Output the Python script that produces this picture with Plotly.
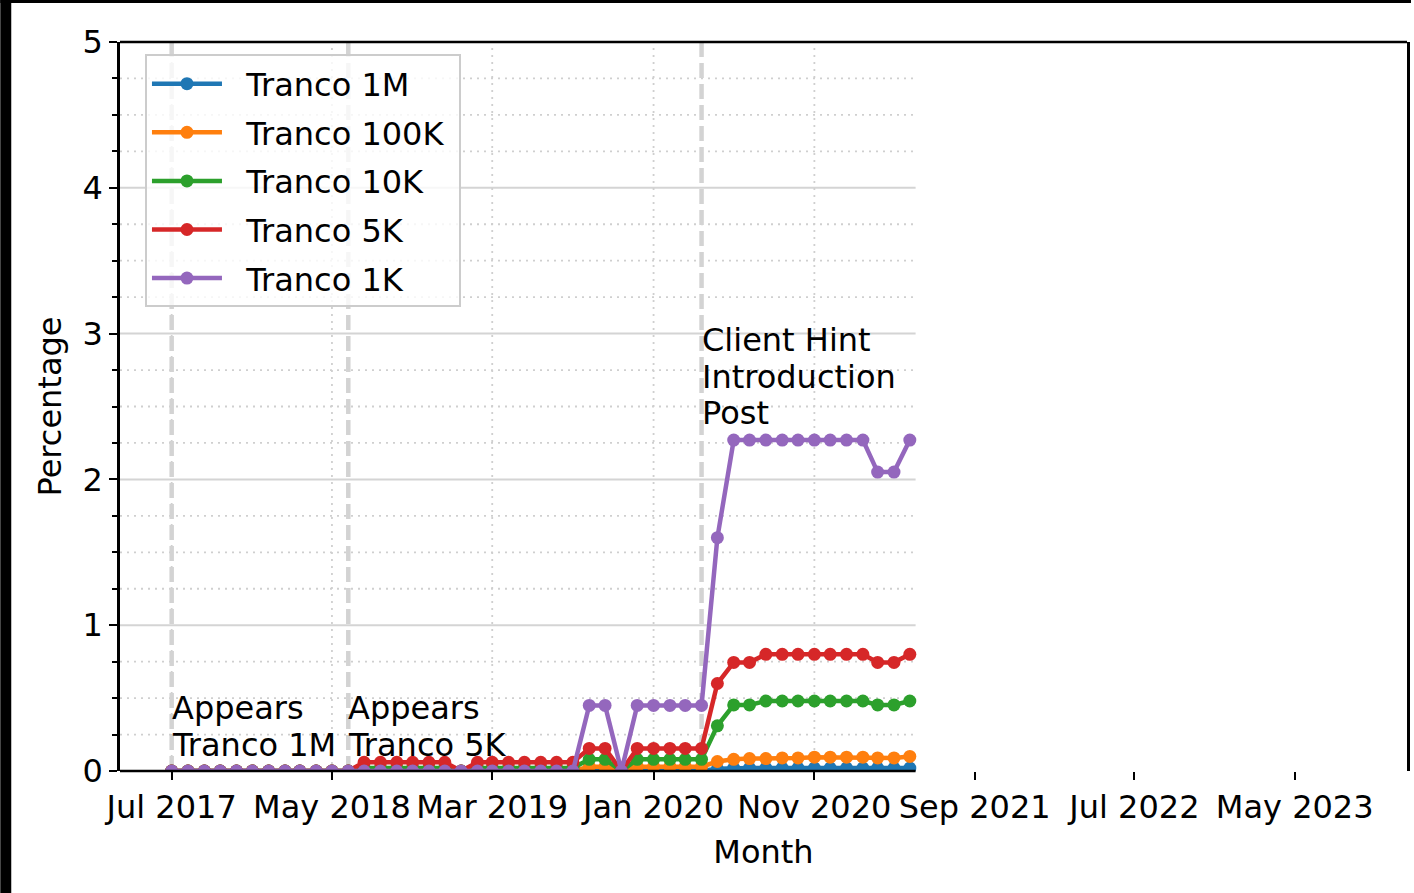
import plotly.graph_objects as go
import pandas as pd

# ---------------- data ----------------
months = pd.date_range("2017-07-01", "2021-05-01", freq="MS")

tranco_1m = [0, 0, 0, 0, 0, 0, 0, 0, 0, 0, 0, 0, 0, 0, 0, 0, 0, 0, 0, 0,
             0, 0, 0, 0, 0, 0, 0, 0, 0, 0, 0, 0, 0, 0,
             0.015, 0.02, 0.02, 0.02, 0.02, 0.02, 0.02, 0.02, 0.02, 0.02, 0.02, 0.02, 0.02]
tranco_100k = [0, 0, 0, 0, 0, 0, 0, 0, 0, 0, 0, 0, 0, 0, 0, 0, 0, 0, 0, 0,
               0, 0, 0, 0, 0, 0,
               0.03, 0.03, 0, 0.03, 0.03, 0.03, 0.03, 0.03,
               0.065, 0.08, 0.085, 0.085, 0.09, 0.09, 0.095, 0.095, 0.095, 0.095, 0.09, 0.09, 0.10]
tranco_10k = [0, 0, 0, 0, 0, 0, 0, 0, 0, 0, 0, 0,
              0.02, 0.02, 0.02, 0.02, 0.02, 0.02, 0, 0.02, 0.02, 0.02, 0.02, 0.02, 0.02, 0.02,
              0.08, 0.08, 0, 0.08, 0.08, 0.08, 0.08, 0.08,
              0.31, 0.453, 0.453, 0.48, 0.48, 0.48, 0.48, 0.48, 0.48, 0.48, 0.453, 0.453, 0.48]
tranco_5k = [0, 0, 0, 0, 0, 0, 0, 0, 0, 0, 0, 0,
             0.06, 0.06, 0.06, 0.06, 0.06, 0.06, 0, 0.06, 0.06, 0.06, 0.06, 0.06, 0.06, 0.06,
             0.155, 0.155, 0, 0.155, 0.155, 0.155, 0.155, 0.155,
             0.60, 0.745, 0.745, 0.80, 0.80, 0.80, 0.80, 0.80, 0.80, 0.80, 0.745, 0.745, 0.80]
tranco_1k = [0, 0, 0, 0, 0, 0, 0, 0, 0, 0, 0, 0, 0, 0, 0, 0, 0, 0, 0, 0,
             0, 0, 0, 0, 0, 0,
             0.45, 0.45, 0, 0.45, 0.45, 0.45, 0.45, 0.45,
             1.6, 2.27, 2.27, 2.27, 2.27, 2.27, 2.27, 2.27, 2.27, 2.27, 2.05, 2.05, 2.27]

series_names = ["Tranco 1M", "Tranco 100K", "Tranco 10K", "Tranco 5K", "Tranco 1K"]
series_values = [tranco_1m, tranco_100k, tranco_10k, tranco_5k, tranco_1k]
series_colors = ["#1f77b4", "#ff7f0e", "#2ca02c", "#d62728", "#9467bd"]

tick_dates = ["2017-07-01", "2018-05-01", "2019-03-01", "2020-01-01",
              "2020-11-01", "2021-09-01", "2022-07-01", "2023-05-01"]
tick_labels = ["Jul 2017", "May 2018", "Mar 2019", "Jan 2020",
               "Nov 2020", "Sep 2021", "Jul 2022", "May 2023"]

event_dates = ["2017-07-01", "2018-06-01", "2020-04-01"]
event_labels = [["Appears", "Tranco 1M"], ["Appears", "Tranco 5K"],
                ["Client Hint", "Introduction", "Post"]]

y_major = [0, 1, 2, 3, 4, 5]
y_minor_step = 0.25

# ---------------- style ----------------
FONT = "DejaVu Sans"
FS = 32
X_START, X_END = "2017-03-25", "2023-11-30"
GRID_END = "2021-05-12"
event_label_bottom = [0.18, 0.18, 2.455]
line_step = 0.25

fig = go.Figure()
for name, vals, col in zip(series_names, series_values, series_colors):
    fig.add_trace(go.Scatter(
        x=months, y=vals, name="\u2002\u200a" + name + "\u2009\u200a", mode="lines+markers",
        legendgroup=name,
        line=dict(color=col, width=4.5),
        marker=dict(color=col, size=13),
    ))

shapes = []
# horizontal grid (major solid, minor dotted), stopped at GRID_END
n_minor = int(round((y_major[-1] - y_major[0]) / y_minor_step))
for i in range(1, n_minor):
    v = y_major[0] + i * y_minor_step
    is_major = abs(v - round(v)) < 1e-9
    shapes.append(dict(type="line", xref="x", yref="y", x0=X_START, x1=GRID_END,
                       y0=v, y1=v, layer="below",
                       line=dict(color="#d4d4d4" if is_major else "#cfcfcf",
                                 width=2 if is_major else 1.8,
                                 dash="solid" if is_major else "2px,5px")))
# vertical dotted grid at ticks within the grid region
for d in tick_dates:
    if pd.Timestamp(d) < pd.Timestamp(GRID_END):
        shapes.append(dict(type="line", xref="x", yref="y", x0=d, x1=d,
                           y0=y_major[0], y1=y_major[-1], layer="below",
                           line=dict(color="#cfcfcf", width=1.8, dash="2px,5px")))
# event lines
for d in event_dates:
    shapes.append(dict(type="line", xref="x", yref="y", x0=d, x1=d,
                       y0=y_major[0], y1=y_major[-1], layer="below",
                       line=dict(color="#d3d3d3", width=4.5, dash="15px,6px")))
# spines: top full width, bottom only to GRID_END
shapes.append(dict(type="line", xref="paper", yref="paper", x0=0, x1=1, y0=1, y1=1,
                   line=dict(color="black", width=2.5)))
shapes.append(dict(type="line", xref="x", yref="paper", x0=X_START, x1=GRID_END, y0=0, y1=0,
                   line=dict(color="black", width=2.5)))
# black frame strips of the original image (left and top)
shapes.append(dict(type="rect", xref="paper", yref="paper",
                   x0=-120 / 1290, x1=-109 / 1290, y0=-122 / 729, y1=771 / 729,
                   fillcolor="black", line=dict(width=0)))
shapes.append(dict(type="rect", xref="paper", yref="paper",
                   x0=-120 / 1290, x1=1 + 4 / 1290, y0=768 / 729, y1=771 / 729,
                   fillcolor="black", line=dict(width=0)))

annotations = []
for d, lines, yb in zip(event_dates, event_labels, event_label_bottom):
    n = len(lines)
    for j, t in enumerate(lines):
        annotations.append(dict(x=d, y=yb + (n - 1 - j) * line_step, xref="x", yref="y",
                                text=t, showarrow=False, xanchor="left", yanchor="middle",
                                xshift=-2, font=dict(family=FONT, size=FS, color="black")))

fig.update_layout(
    width=1414, height=893,
    margin=dict(l=120, r=4, t=42, b=122),
    paper_bgcolor="white", plot_bgcolor="white",
    font=dict(family=FONT, size=FS, color="black"),
    shapes=shapes, annotations=annotations,
    legend=dict(x=0.0194, y=0.983, xanchor="left", yanchor="top",
                bgcolor="rgba(255,255,255,0.8)", bordercolor="#cccccc", borderwidth=2,
                font=dict(family=FONT, size=FS, color="black"), itemwidth=70,
                tracegroupgap=4),
    showlegend=True,
    xaxis=dict(type="date", range=[X_START, X_END], tickvals=tick_dates, ticktext=tick_labels,
               ticks="outside", ticklen=8, tickwidth=2, tickcolor="black",
               showgrid=False, showline=False, zeroline=False,
               tickfont=dict(family=FONT, size=FS),
               title=dict(text="Month", font=dict(family=FONT, size=FS), standoff=15)),
    yaxis=dict(range=[y_major[0], y_major[-1]], tickvals=y_major,
               ticks="outside", ticklen=8, tickwidth=2, tickcolor="black",
               minor=dict(dtick=y_minor_step, ticks="outside", ticklen=5, tickwidth=1.5,
                          tickcolor="black", showgrid=False),
               showgrid=False, zeroline=False, showline=True, mirror=True,
               linecolor="black", linewidth=2.5,
               tickfont=dict(family=FONT, size=FS),
               title=dict(text="Percentage", font=dict(family=FONT, size=FS), standoff=12)),
)

fig.write_html("out.html", config={"displayModeBar": False},
               post_script="document.body.style.margin='0';")
